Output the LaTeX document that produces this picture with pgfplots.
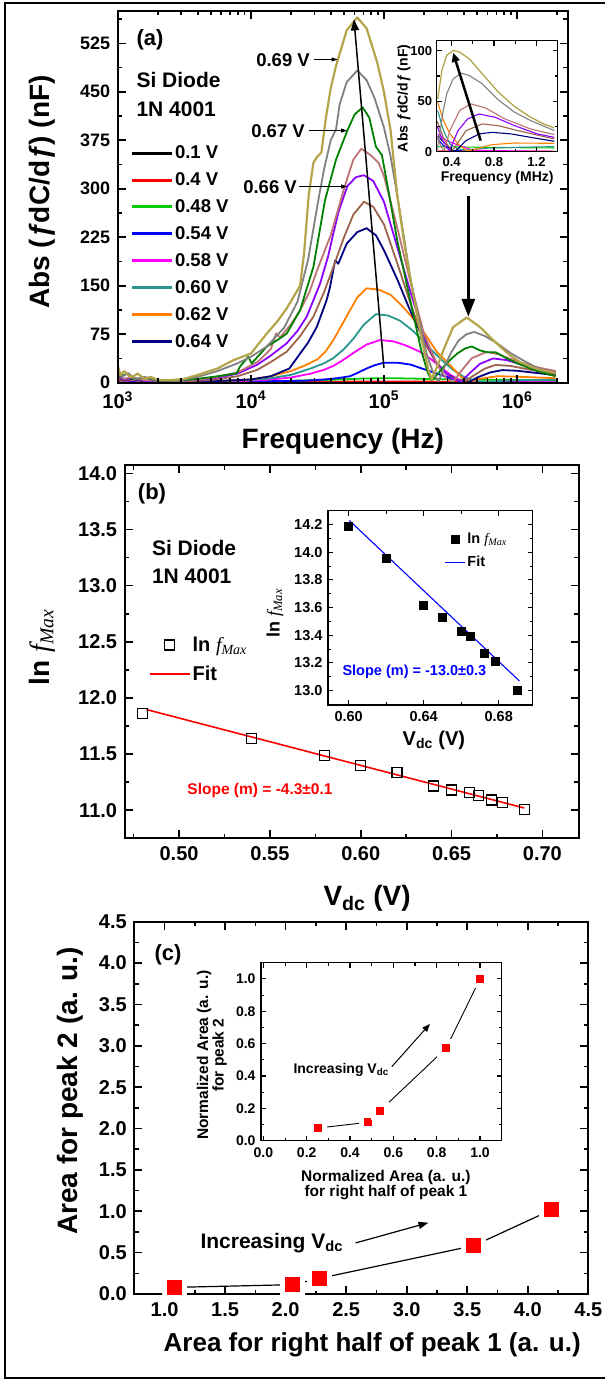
\documentclass[border=0pt]{standalone}
\usepackage{pgfplots}
\pgfplotsset{compat=1.18}
\usetikzlibrary{arrows.meta}
\usepackage{fontspec}
\setmainfont{Liberation Sans}
\newfontfamily\seriffont{Liberation Serif}
\newcommand\fs[1]{\fontsize{#1}{#1}\selectfont\bfseries}
\definecolor{cGreen}{RGB}{0,204,0}
\definecolor{cTeal}{RGB}{40,150,140}
\definecolor{cOrange}{RGB}{255,128,0}
\definecolor{cNavy}{RGB}{0,0,128}
\definecolor{cBrown}{RGB}{155,100,75}
\definecolor{cPurple}{RGB}{140,0,255}
\definecolor{cRosy}{RGB}{190,115,115}
\definecolor{cDkGreen}{RGB}{0,128,0}
\definecolor{cGray}{RGB}{128,128,128}
\definecolor{cOlive}{RGB}{180,165,75}
\definecolor{cMagenta}{RGB}{255,0,255}
\pgfplotsset{
 fig/.style={scale only axis, tick align=inside, tick pos=both,
   axis line style={line width=2.2pt}, every tick/.style={black,line width=1.6pt},
   major tick length=8pt, minor tick length=4.5pt,
   /pgf/number format/assume math mode=true, axis on top},
 ins/.style={scale only axis, tick align=inside, tick pos=both,
   axis line style={line width=1.4pt}, every tick/.style={black,line width=1.1pt},
   major tick length=5pt, minor tick length=3pt,
   /pgf/number format/assume math mode=true, axis background/.style={fill=white}, axis on top},
 legmarkA/.style={legend image code/.code={\draw[mark repeat=1,##1] plot coordinates {(20pt,0pt)};}},
 leglineA/.style={legend image code/.code={\draw[##1,#1,line width=2pt] (0pt,0pt) -- (40pt,0pt);}},
 legmarkB/.style={legend image code/.code={\draw[mark repeat=1,##1] plot coordinates {(10pt,0pt)};}},
 leglineB/.style={legend image code/.code={\draw[##1,#1,line width=1.3pt] (0pt,0pt) -- (20pt,0pt);}},
}
\newcommand\ff{{\itshape ƒ}}
\begin{document}
\begin{tikzpicture}
\path[use as bounding box] (0pt,0pt) rectangle (605pt,-1383pt);
\draw[line width=1.8pt] (605pt,-3pt) -- (5pt,-3pt) -- (5pt,-1378pt) -- (605pt,-1378pt);

% ================= Panel (a) =================
\begin{axis}[fig, at={(117.7pt,-382.7pt)}, anchor=south west, width=450.2pt, height=371.7pt,
  xmin=3, xmax=6.382, ymin=0, ymax=575,
  xtick={3,4,5,6}, xticklabels={10\textsuperscript{3},10\textsuperscript{4},10\textsuperscript{5},10\textsuperscript{6}},
  minor xtick={3.301,3.477,3.602,3.699,3.778,3.845,3.903,3.954,4.301,4.477,4.602,4.699,4.778,4.845,4.903,4.954,5.301,5.477,5.602,5.699,5.778,5.845,5.903,5.954,6.301},
  ytick={0,75,150,225,300,375,450,525}, yticklabels={0,75,150,225,300,375,450,525},
  minor ytick={37.5,112.5,187.5,262.5,337.5,412.5,487.5,562.5},
  xticklabel style={font=\fs{20}, yshift=-5pt},
  yticklabel style={font=\fs{18}, xshift=-4pt},
  xlabel={Frequency (Hz)}, ylabel={Abs (\ff dC/d\ff) (nF)},
  xlabel style={font=\fs{28}, at={(axis description cs:0.5,-0.157)}, anchor=center},
  ylabel style={font=\fs{28}, at={(axis description cs:-0.168,0.513)}, anchor=center},
  legend style={at={(axis description cs:0.027,0.643)}, anchor=north west, draw=none, fill=none,
    font=\fs{18.5}, row sep=8.5pt, inner sep=0pt},
  legend cell align=left,
  legend image code/.code={\draw[#1, line width=3pt] (0pt,0pt) -- (40pt,0pt);},
  every axis plot/.append style={line width=1.8pt, line join=round},
]
\addplot[black] coordinates {(3.0,1.5)(3.1,0.5)(3.3,0.3)(3.6,0.3)(4.0,0.3)(4.5,0.4)(5.0,0.5)(5.5,0.3)(6.0,0.2)(6.29,0.2)};
\addlegendentry{0.1 V}
\addplot[red] coordinates {(3.0,2)(3.1,1)(3.3,0.5)(3.7,0.5)(4.2,0.8)(4.6,1.5)(5.0,2)(5.3,1.8)(5.6,1)(6.0,0.5)(6.29,0.4)};
\addlegendentry{0.4 V}
\addplot[cGreen] coordinates {(3.0,4)(3.05,2)(3.1,3)(3.2,1)(3.5,1)(3.8,1.5)(4.0,2)(4.3,3)(4.6,4.5)(4.85,6.5)(5.02,7)(5.2,6.5)(5.4,5.5)(5.6,4.8)(5.8,4.5)(6.0,4.2)(6.29,4)};
\addlegendentry{0.48 V}
\addplot[blue] coordinates {(3.0,3)(3.05,5)(3.1,2)(3.2,1)(3.5,1)(3.8,1.5)(4.0,2)(4.2,2.5)(4.4,3)(4.55,5)(4.65,7)(4.745,10)(4.8,15)(4.87,22)(4.93,27)(5.0,31)(5.1,31)(5.2,28)(5.3,21)(5.4,14)(5.5,7)(5.6,2.5)(5.7,0.8)(6.0,0.5)(6.29,0.4)};
\addlegendentry{0.54 V}
\addplot[cMagenta] coordinates {(3.0,5)(3.05,2)(3.1,4)(3.2,2)(3.5,1.5)(3.8,2)(4.0,3)(4.15,5)(4.3,8)(4.45,14)(4.55,20)(4.62,26)(4.7,36)(4.77,46)(4.87,59)(4.97,66)(5.07,64)(5.16,58)(5.27,48)(5.35,37)(5.42,25)(5.5,12)(5.58,3)(5.65,1)(6.0,0.8)(6.29,0.7)};
\addlegendentry{0.58 V}
\addplot[cTeal] coordinates {(3.0,6)(3.05,3)(3.1,5)(3.2,2)(3.5,2)(3.8,3)(4.0,4)(4.15,7)(4.3,12)(4.45,22)(4.55,30)(4.62,38)(4.7,52)(4.77,68)(4.85,90)(4.94,106)(5.03,104)(5.12,96)(5.22,80)(5.3,63)(5.38,46)(5.45,32)(5.52,20)(5.6,9)(5.68,3)(5.76,1.5)(5.85,2.5)(6.0,4)(6.29,4.5)};
\addlegendentry{0.60 V}
\addplot[cOrange] coordinates {(3.0,6)(3.05,3)(3.1,5)(3.2,2)(3.5,2)(3.8,3)(4.0,5)(4.15,10)(4.3,18)(4.4,26)(4.5,36)(4.56,48)(4.62,66)(4.68,88)(4.745,112)(4.8,132)(4.87,146)(4.96,144)(5.05,136)(5.13,120)(5.2,104)(5.3,78)(5.4,47)(5.45,37)(5.52,22)(5.58,9)(5.64,1)(5.72,6)(5.85,10)(5.97,9.5)(6.1,8.5)(6.29,7)};
\addlegendentry{0.62 V}
\addplot[cNavy] coordinates {(3.0,8)(3.05,3)(3.1,6)(3.2,2)(3.5,2)(3.8,3)(4.0,5)(4.15,10)(4.29,22)(4.37,45)(4.43,62)(4.495,86)(4.57,128)(4.595,148)(4.633,189)(4.657,184)(4.72,215)(4.8,233)(4.87,239)(4.94,228)(5.0,205)(5.1,160)(5.19,115)(5.3,66)(5.39,32)(5.47,14)(5.55,4)(5.635,0.5)(5.7,8)(5.8,16)(5.89,19.5)(6.0,18.5)(6.15,15)(6.29,11.5)};
\addlegendentry{0.64 V}
\addplot[cBrown, forget plot] coordinates {(3.0,9)(3.05,4)(3.1,7)(3.2,3)(3.3,2)(3.5,2)(3.7,4)(3.9,10)(4.05,20)(4.15,32)(4.27,48)(4.37,72)(4.47,102)(4.55,140)(4.62,179)(4.7,225)(4.77,260)(4.85,280)(4.92,272)(5.0,245)(5.1,185)(5.2,122)(5.3,64)(5.4,28)(5.5,9)(5.6,1)(5.68,12)(5.76,22)(5.84,27.5)(5.95,26)(6.05,22)(6.17,17.5)(6.29,13.5)};
\addplot[cPurple, forget plot] coordinates {(3.0,11)(3.05,5)(3.1,8)(3.2,3)(3.3,2)(3.5,3)(3.7,6)(3.9,14)(4.05,28)(4.15,42)(4.27,61)(4.35,80)(4.42,102)(4.52,153)(4.58,195)(4.62,231)(4.66,265)(4.725,304)(4.79,318)(4.85,321)(4.92,312)(5.0,280)(5.1,210)(5.2,140)(5.3,72)(5.4,28)(5.5,8)(5.58,1)(5.64,14)(5.72,29)(5.82,37.5)(5.92,35)(6.02,29)(6.15,22)(6.29,16)};
\addplot[cRosy, forget plot] coordinates {(3.0,13)(3.05,6)(3.1,9)(3.2,4)(3.3,3)(3.5,3)(3.7,7)(3.9,16)(4.05,32)(4.15,52)(4.19,76)(4.22,70)(4.3,90)(4.37,112)(4.44,140)(4.5,175)(4.6,228)(4.7,300)(4.77,345)(4.83,362)(4.9,352)(4.96,340)(5.0,320)(5.1,240)(5.2,155)(5.3,76)(5.4,28)(5.47,6)(5.52,1)(5.58,18)(5.66,38)(5.77,47.5)(5.86,44)(5.96,36)(6.06,29)(6.17,23)(6.29,18)};
\addplot[cDkGreen, forget plot] coordinates {(3.0,25)(3.02,10)(3.07,14)(3.12,5)(3.2,8)(3.3,3)(3.45,3)(3.6,6)(3.75,10)(3.894,14.5)(3.919,25)(3.981,40)(4.006,30)(4.06,42)(4.12,56)(4.2,66)(4.27,76)(4.37,112)(4.47,179)(4.557,282)(4.64,345)(4.725,390)(4.78,415)(4.84,426)(4.89,410)(4.94,365)(4.985,352)(5.04,290)(5.1,220)(5.2,125)(5.28,50)(5.33,15)(5.36,4)(5.41,15)(5.47,30)(5.55,45)(5.61,53)(5.66,56)(5.72,50)(5.78,47)(5.84,47)(5.92,38)(6.0,30)(6.1,22)(6.2,15)(6.29,10)};
\addplot[cGray, forget plot] coordinates {(3.0,22)(3.03,9)(3.08,15)(3.13,5)(3.2,9)(3.3,4)(3.45,3)(3.6,9)(3.75,18)(3.9,30)(4.0,40)(4.12,56)(4.25,85)(4.35,125)(4.43,190)(4.507,282)(4.55,330)(4.6,375)(4.64,392)(4.667,430)(4.72,465)(4.8,483)(4.87,468)(4.93,440)(5.0,395)(5.05,350)(5.1,290)(5.15,225)(5.2,160)(5.26,100)(5.32,45)(5.37,15)(5.41,2)(5.45,22)(5.5,45)(5.56,65)(5.62,75)(5.68,78.5)(5.76,72)(5.85,61)(5.95,46)(6.05,34)(6.15,23)(6.29,14)};
\addplot[cOlive, forget plot, line width=2.2pt] coordinates {(3.0,27)(3.02,12)(3.05,18)(3.1,8)(3.15,14)(3.2,6)(3.25,9)(3.3,4)(3.4,4)(3.5,6)(3.6,12)(3.75,22)(3.87,35)(4.0,45)(4.12,76)(4.2,95)(4.27,115)(4.37,150)(4.4,200)(4.435,290)(4.47,340)(4.5,350)(4.53,356)(4.565,411)(4.6,455)(4.64,490)(4.72,545)(4.8,565)(4.87,548)(4.95,495)(5.0,450)(5.05,390)(5.1,290)(5.146,225)(5.19,170)(5.234,122)(5.28,70)(5.334,20)(5.359,5)(5.4,25)(5.446,50)(5.52,86)(5.622,101)(5.722,86)(5.8,70)(5.872,56)(5.95,42)(6.02,32)(6.1,25)(6.17,20)(6.29,15)};
% arrows
\draw[black, line width=1.5pt, -{Triangle[length=11pt,width=8pt]}] (axis cs:5.0,23) -- (axis cs:4.775,562);
\draw[black, line width=3pt, -{Triangle[length=18pt,width=13pt]}] (axis cs:5.634,289) -- (axis cs:5.634,102);
\draw[black, line width=0.9pt, -{Triangle[length=6pt,width=4pt]}] (axis cs:4.475,500) -- (axis cs:4.652,500);
\draw[black, line width=0.9pt, -{Triangle[length=6pt,width=4pt]}] (axis cs:4.434,390) -- (axis cs:4.723,390);
\draw[black, line width=0.9pt, -{Triangle[length=6pt,width=4pt]}] (axis cs:4.362,303.5) -- (axis cs:4.723,303.5);
\end{axis}
\node[font=\fs{22}] at (150pt,-40pt) {(a)};
\node[font=\fs{21}, anchor=base west] at (133pt,-88pt) {Si Diode};
\node[font=\fs{21}, anchor=base west] at (133pt,-117pt) {1N 4001};
\node[font=\fs{18.5}, anchor=east, inner sep=1pt] at (311pt,-60pt) {0.69 V};
\node[font=\fs{18.5}, anchor=east, inner sep=1pt] at (306pt,-131pt) {0.67 V};
\node[font=\fs{18.5}, anchor=east, inner sep=1pt] at (298pt,-187pt) {0.66 V};

% inset (a)
\begin{axis}[ins, at={(436.7pt,-151.7pt)}, anchor=south west, width=121pt, height=111pt,
  xmin=0.26, xmax=1.40, ymin=0, ymax=110,
  xtick={0.4,0.8,1.2}, xticklabels={0.4,0.8,1.2}, minor xtick={0.6,1.0},
  ytick={0,50,100}, yticklabels={0,50,100}, minor ytick={25,75},
  xticklabel style={font=\fs{13}, yshift=-2pt},
  yticklabel style={font=\fs{13}, xshift=-1pt},
  xlabel={Frequency (MHz)}, ylabel={Abs \ff dC/d\ff\ (nF)},
  xlabel style={font=\fs{14}, at={(axis description cs:0.5,-0.24)}, anchor=center},
  ylabel style={font=\fs{14}, at={(axis description cs:-0.27,0.48)}, anchor=center},
  every axis plot/.append style={line width=1.1pt, line join=round},
]
\addplot[red] coordinates {(0.269,0.8)(1.368,0.5)};
\addplot[cGreen] coordinates {(0.269,5)(0.6,4.5)(1.0,4)(1.368,3.7)};
\addplot[blue] coordinates {(0.269,12.6)(0.324,6)(0.385,1.6)(0.537,0.3)(1.368,0)};
\addplot[cMagenta] coordinates {(0.269,17.6)(0.354,10.9)(0.476,6)(0.598,1.6)(0.841,1)(1.368,0.3)};
\addplot[cTeal] coordinates {(0.269,40.8)(0.324,20.9)(0.385,7.6)(0.461,2.6)(0.537,1.6)(0.689,3.3)(0.994,4.3)(1.368,5)};
\addplot[cOrange] coordinates {(0.269,49)(0.324,30.8)(0.385,17.6)(0.476,6)(0.552,1)(0.628,2.6)(0.78,7)(0.994,8.6)(1.368,8.3)};
\addplot[cNavy] coordinates {(0.269,15.9)(0.385,2.6)(0.43,0)(0.537,11)(0.659,17.6)(0.78,19.2)(0.963,17.6)(1.146,14.2)(1.368,10.3)};
\addplot[cBrown] coordinates {(0.265,30)(0.33,12)(0.40,1)(0.43,4.3)(0.537,20.9)(0.689,27.5)(0.841,25.8)(1.024,20.9)(1.368,12.6)};
\addplot[cPurple] coordinates {(0.265,25)(0.32,10)(0.38,1)(0.461,20.9)(0.552,32.5)(0.659,37.4)(0.811,34.1)(0.994,25.8)(1.207,17.6)(1.368,14.2)};
\addplot[cRosy] coordinates {(0.265,15)(0.3,5)(0.33,1)(0.385,21)(0.476,40.8)(0.583,47.4)(0.72,43.4)(0.902,32.5)(1.146,22.5)(1.368,16.9)};
\addplot[cGray] coordinates {(0.265,2)(0.293,21)(0.32,40)(0.354,57.3)(0.415,72.2)(0.491,77.9)(0.567,75.5)(0.689,67.3)(0.841,51.3)(0.994,39.1)(1.146,30.8)(1.368,20.9)};
\addplot[cOlive, line width=1.3pt] coordinates {(0.269,52)(0.309,80.5)(0.354,95.4)(0.415,100.4)(0.476,98.7)(0.567,92)(0.689,77.2)(0.841,59)(0.994,44.7)(1.146,34.1)(1.268,27.5)(1.368,23.5)};
\draw[black, line width=2.5pt, -{Triangle[length=9pt,width=8pt]}] (axis cs:0.674,11) -- (axis cs:0.415,98);
\end{axis}

% ================= Panel (b) =================
\begin{axis}[fig, at={(124.6pt,-838.3pt)}, anchor=south west, width=454.1pt, height=373.3pt,
  xmin=0.47, xmax=0.72, ymin=10.75, ymax=14.075,
  xtick={0.50,0.55,0.60,0.65,0.70}, xticklabels={0.50,0.55,0.60,0.65,0.70},
  minor xtick={0.475,0.525,0.575,0.625,0.675},
  ytick={11,11.5,12,12.5,13,13.5,14}, yticklabels={11.0,11.5,12.0,12.5,13.0,13.5,14.0},
  minor ytick={10.75,11.25,11.75,12.25,12.75,13.25,13.75},
  xticklabel style={font=\fs{20}, yshift=-5pt},
  yticklabel style={font=\fs{20}, xshift=-4pt},
  xlabel={V\textsubscript{dc} (V)},
  ylabel={ln {\seriffont\itshape\mdseries f}\textsubscript{\seriffont\itshape\mdseries Max}},
  xlabel style={font=\fs{28}, at={(axis description cs:0.534,-0.16)}, anchor=center},
  ylabel style={font=\fs{28}, at={(axis description cs:-0.182,0.512)}, anchor=center},
  legend style={at={(axis description cs:0.0526,0.545)}, anchor=north west, draw=none, fill=none,
    font=\fs{20}, row sep=9pt, inner sep=0pt},
  legend cell align=left,
]
\addplot[only marks, mark=square, mark size=5pt, mark options={line width=1.3pt, black}, legmarkA]
 coordinates {(0.48,11.86)(0.54,11.64)(0.58,11.49)(0.60,11.40)(0.62,11.336)(0.64,11.217)(0.65,11.18)(0.66,11.155)(0.665,11.13)(0.672,11.09)(0.678,11.07)(0.69,11.006)};
\addlegendentry{ln {\seriffont\itshape\mdseries f}\textsubscript{\seriffont\itshape\mdseries Max}}
\addplot[red, line width=1.6pt, leglineA=red]
 coordinates {(0.482,11.897)(0.69,11.02)};
\addlegendentry{Fit}
\end{axis}
\node[font=\fs{22}] at (152pt,-494pt) {(b)};
\node[font=\fs{21}, anchor=base west] at (148.5pt,-555pt) {Si Diode};
\node[font=\fs{21}, anchor=base west] at (148.5pt,-583pt) {1N 4001};
\node[font=\fs{15.5}, text=red] at (260pt,-790pt) {Slope (m) = -4.3±0.1};

% inset (b)
\begin{axis}[ins, at={(328pt,-705pt)}, anchor=south west, width=204.5pt, height=194.3pt,
  xmin=0.589, xmax=0.698, ymin=12.896, ymax=14.30,
  xtick={0.60,0.64,0.68}, xticklabels={0.60,0.64,0.68}, minor xtick={0.62,0.66},
  ytick={13.0,13.2,13.4,13.6,13.8,14.0,14.2}, yticklabels={13.0,13.2,13.4,13.6,13.8,14.0,14.2},
  minor ytick={13.1,13.3,13.5,13.7,13.9,14.1},
  xticklabel style={font=\fs{14.5}, yshift=-3pt},
  yticklabel style={font=\fs{14.5}, xshift=-2pt},
  xlabel={V\textsubscript{dc} (V)},
  ylabel={ln {\seriffont\itshape\mdseries f}\textsubscript{\seriffont\itshape\mdseries Max}},
  xlabel style={font=\fs{20}, at={(axis description cs:0.518,-0.18)}, anchor=center},
  ylabel style={font=\fs{18}, at={(axis description cs:-0.259,0.473)}, anchor=center},
  legend style={at={(axis description cs:0.567,0.895)}, anchor=north west, draw=none, fill=none,
    font=\fs{14.5}, row sep=7pt, inner sep=0pt},
  legend cell align=left,
]
\addplot[only marks, mark=square*, mark size=4pt, mark options={black}, legmarkB]
 coordinates {(0.60,14.188)(0.62,13.96)(0.64,13.62)(0.65,13.53)(0.66,13.43)(0.665,13.39)(0.672,13.27)(0.678,13.21)(0.69,13.005)};
\addlegendentry{ln {\seriffont\itshape\mdseries f}\textsubscript{\seriffont\itshape\mdseries Max}}
\addplot[blue, line width=1.1pt, leglineB=blue]
 coordinates {(0.6003,14.23)(0.691,13.07)};
\addlegendentry{Fit}
\end{axis}
\node[font=\fs{14.5}, text=blue, anchor=west] at (339pt,-672pt) {Slope (m) = -13.0±0.3};

% ================= Panel (c) =================
\begin{axis}[fig, at={(134.3pt,-1294pt)}, anchor=south west, width=454pt, height=372.3pt,
  xmin=0.75, xmax=4.5, ymin=0, ymax=4.5,
  xtick={1,1.5,2,2.5,3,3.5,4,4.5}, xticklabels={1.0,1.5,2.0,2.5,3.0,3.5,4.0,4.5},
  minor xtick={1.25,1.75,2.25,2.75,3.25,3.75,4.25},
  ytick={0,0.5,1,1.5,2,2.5,3,3.5,4,4.5}, yticklabels={0.0,0.5,1.0,1.5,2.0,2.5,3.0,3.5,4.0,4.5},
  minor ytick={0.25,0.75,1.25,1.75,2.25,2.75,3.25,3.75,4.25},
  xticklabel style={font=\fs{20}, yshift=-5pt},
  yticklabel style={font=\fs{20}, xshift=-4pt},
  xlabel={Area for right half of peak 1 (a. u.)}, ylabel={Area for peak 2 (a. u.)},
  xlabel style={font=\fs{26}, at={(axis description cs:0.524,-0.137)}, anchor=center},
  ylabel style={font=\fs{28}, at={(axis description cs:-0.142,0.545)}, anchor=center},
]
\addplot[black, line width=1.2pt, mark=square*, mark size=10pt, mark options={fill=red, draw=white, line width=5pt}]
 coordinates {(1.08,0.08)(2.057,0.113)(2.283,0.19)(3.555,0.585)(4.20,1.02)};
\draw[black, line width=1.2pt, -{Triangle[length=10pt,width=7pt]}] (axis cs:2.577,0.617) -- (axis cs:3.18,0.862);
\end{axis}
\node[font=\fs{22}] at (168pt,-955pt) {(c)};
\node[font=\fs{21}, anchor=base west] at (197pt,-1248pt) {Increasing V\textsubscript{dc}};

% inset (c)
\begin{axis}[ins, at={(261pt,-1140.7pt)}, anchor=south west, width=240.7pt, height=178pt,
  xmin=-0.011, xmax=1.1, ymin=0, ymax=1.1,
  xtick={0,0.2,0.4,0.6,0.8,1.0}, xticklabels={0.0,0.2,0.4,0.6,0.8,1.0}, minor xtick={0.1,0.3,0.5,0.7,0.9},
  ytick={0,0.2,0.4,0.6,0.8,1.0}, yticklabels={0.0,0.2,0.4,0.6,0.8,1.0}, minor ytick={0.1,0.3,0.5,0.7,0.9},
  xticklabel style={font=\fs{14}, yshift=-3pt},
  yticklabel style={font=\fs{14}, xshift=-2pt},
  xlabel={Normalized Area (a. u.)\\for right half of peak 1},
  ylabel={Normalized Area (a. u.)\\for peak 2},
  xlabel style={font=\fs{15.5}, align=center, at={(axis description cs:0.519,-0.249)}, anchor=center},
  ylabel style={font=\fs{15.5}, align=center, at={(axis description cs:-0.204,0.481)}, anchor=center},
]
\addplot[black, line width=0.9pt, mark=square*, mark size=6.5pt, mark options={fill=red, draw=white, line width=5pt}]
 coordinates {(0.25,0.078)(0.485,0.114)(0.539,0.186)(0.843,0.571)(1.0,1.0)};
\draw[black, line width=1pt, -{Triangle[length=8pt,width=6pt]}] (axis cs:0.593,0.458) -- (axis cs:0.769,0.722);
\end{axis}
\node[font=\fs{14}, anchor=base west] at (290pt,-1073pt) {Increasing V\textsubscript{dc}};
\end{tikzpicture}
\end{document}
